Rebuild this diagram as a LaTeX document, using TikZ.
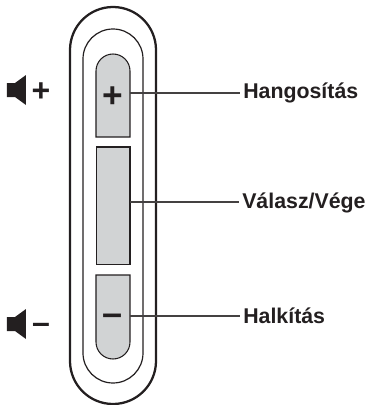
\documentclass[tikz,border=0pt]{standalone}
\usepackage{fontspec}
\setmainfont{Liberation Sans}
\definecolor{keygray}{HTML}{D1D3D4}
\definecolor{inkblack}{HTML}{231F20}
\tikzset{
  keyshape/.style={draw=inkblack,fill=keygray,line width=0.8pt},
  leader/.style={draw=inkblack!85,line width=0.8pt},
  calllabel/.style={anchor=base west,inner sep=0pt,text=inkblack,font=\fontsize{16}{18}\selectfont\bfseries},
  keyplus/.style={inner sep=0pt,text=inkblack,font=\fontsize{26.5}{27}\selectfont\bfseries},
  keyminus/.style={inner sep=0pt,text=inkblack,font=\fontsize{27}{27}\selectfont\bfseries},
  sideplus/.style={inner sep=0pt,text=inkblack,font=\fontsize{24}{24}\selectfont\bfseries},
  speaker/.style={fill=inkblack,draw=none},
}
\begin{document}
\begin{tikzpicture}[x=0.75pt,y=0.75pt]
  \useasboundingbox (0,0) rectangle (365,405);

  % Korpus: kulso es belso korvonal.
  \draw[inkblack,line width=1.7pt] (70,44) -- (70,355) arc[start angle=180,end angle=0,radius=43]
    -- (156,44) arc[start angle=0,end angle=-180,radius=43] -- cycle;
  \draw[inkblack,line width=0.9pt] (83,52) -- (83,346) arc[start angle=180,end angle=0,radius=30]
    -- (143,52) arc[start angle=0,end angle=-180,radius=30] -- cycle;

  % Gombok.
  \draw[keyshape] (96,268) -- (96,334) arc[start angle=180,end angle=0,radius=17] -- (130,268) -- cycle;
  \draw[keyshape] (96.4,140.4) rectangle (130,258);
  \draw[keyshape] (96,130) -- (96,63) arc[start angle=180,end angle=360,radius=17] -- (130,130) -- cycle;

  \node[keyplus] (upsign) at (113,308) {+};
  \node[keyminus] (downsign) at (113,85) {–};

  % Hangszorok a bal oldalon.
  \foreach \y in {315,81}{
    \fill[speaker] (7,\y-7) -- (15,\y-7) -- (26,\y-15) -- (26,\y+15) -- (15,\y+7) -- (7,\y+7) -- cycle;
  }
  \node[sideplus] (sideup) at (41,313) {+};
  \node[sideplus] (sidedown) at (41,77) {–};

  % Feliratok es vezetovonalak.
  \coordinate (upkey) at (130,312);
  \coordinate (midkey) at (130,203);
  \coordinate (downkey) at (130,89);
  \node[calllabel] (uplabel) at (243,307) {Hangosítás};
  \node[calllabel] (midlabel) at (242,197) {Válasz/Vége};
  \node[calllabel] (downlabel) at (243,82) {Halkítás};
  \draw[leader] (upkey) -- ([xshift=-2]uplabel.west |- upkey);
  \draw[leader] (midkey) -- ([xshift=-2]midlabel.west |- midkey);
  \draw[leader] (downkey) -- ([xshift=-2]downlabel.west |- downkey);
\end{tikzpicture}
\end{document}
